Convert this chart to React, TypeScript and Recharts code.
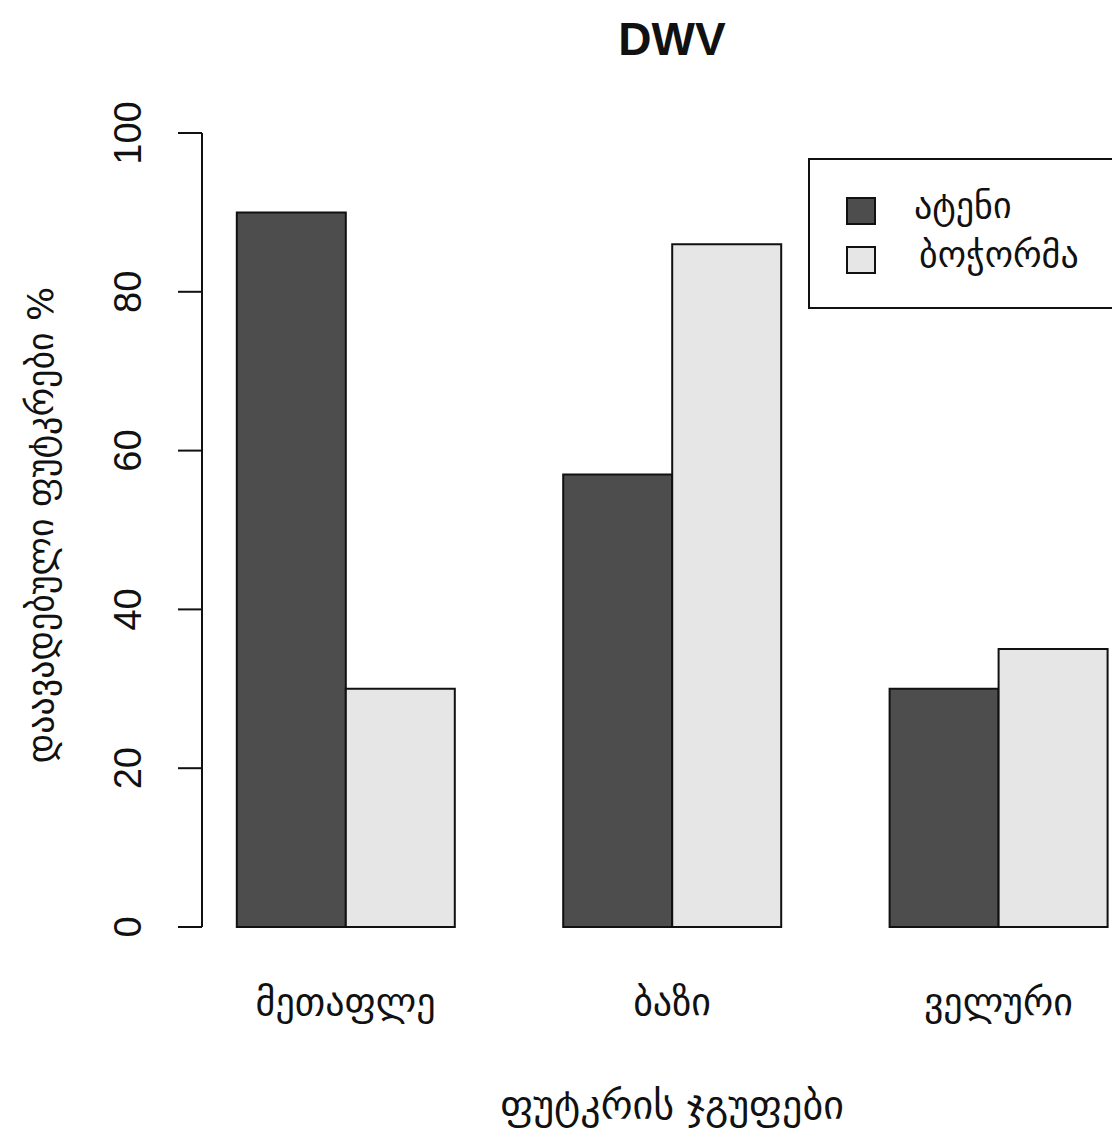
import React from 'react';
import { BarChart, Bar, XAxis, YAxis, Legend } from 'recharts';

const categories = ['მეთაფლე', 'ბაზი', 'ველური'];
const ateniValues = [90, 57, 30];
const bochormaValues = [30, 86, 35];
const yTicks = [0, 20, 40, 60, 80, 100];
const seriesNames = ['ატენი', 'ბოჭორმა'];
const seriesColors = ['#4d4d4d', '#e6e6e6'];
const title = 'DWV';
const xLabel = 'ფუტკრის ჯგუფები';
const yLabel = 'დაავადებული ფუტკრები %';

const data = categories.map((c, i) => ({
  name: c,
  ateni: ateniValues[i],
  bochorma: bochormaValues[i],
}));

const GEO = '"DejaVu Sans", "Noto Sans", sans-serif';
const LAT = '"Liberation Sans", Arial, sans-serif';

const XTick = (props: any) => {
  const { x, y, payload } = props;
  return (
    <text x={x} y={y} dy={88} textAnchor="middle" fontFamily={GEO} fontSize={38} fill="#111">
      {payload.value}
    </text>
  );
};

const YTick = (props: any) => {
  const { y, payload } = props;
  const cx = 128;
  return (
    <text
      x={cx}
      y={y}
      textAnchor="middle"
      dominantBaseline="central"
      transform={`rotate(-90 ${cx} ${y})`}
      fontFamily={LAT}
      fontSize={38}
      fill="#111"
    >
      {payload.value}
    </text>
  );
};

const YLabel = (props: any) => {
  const vb = props.viewBox || { x: 0, y: 133, width: 202, height: 794 };
  const cx = vb.x + 40;
  const cy = vb.y + vb.height / 2 - 5;
  return (
    <text
      x={cx}
      y={cy}
      textAnchor="middle"
      dominantBaseline="central"
      transform={`rotate(-90 ${cx} ${cy})`}
      fontFamily={GEO}
      fontSize={36}
      fill="#111"
    >
      {yLabel}
    </text>
  );
};

const LegendBox = () => (
  <div
    style={{
      width: 340,
      height: 151,
      border: '2px solid #111',
      background: '#fff',
      boxSizing: 'border-box',
      position: 'relative',
    }}
  >
    {seriesNames.map((n, i) => (
      <div key={n} style={{ position: 'absolute', left: 36, top: 36 + i * 49, height: 30, display: 'flex', alignItems: 'center' }}>
        <div
          style={{
            width: 30,
            height: 28,
            background: seriesColors[i],
            border: '2px solid #111',
            boxSizing: 'border-box',
          }}
        />
        <span style={{ marginLeft: 38 + i * 5, fontFamily: GEO, fontSize: 36, color: '#111', lineHeight: '30px', position: 'relative', top: -5 }}>
          {n}
        </span>
      </div>
    ))}
  </div>
);

export default function App() {
  return (
    <div style={{ position: 'absolute', left: 0, top: 0, width: 1112, height: 1135, overflow: 'hidden', background: '#fff' }}>
      <BarChart
        width={1170}
        height={1135}
        data={data}
        margin={{ top: 133, right: 28, bottom: 0, left: 0 }}
        barCategoryGap="16.667%"
        barGap={0}
      >
        <XAxis
          dataKey="name"
          axisLine={false}
          tickLine={false}
          tickSize={0}
          tickMargin={0}
          height={208}
          padding={{ left: -19.6, right: -19.6 }}
          tick={<XTick />}
          interval={0}
          label={{ value: xLabel, position: 'insideBottom', offset: 16, fontFamily: GEO, fontSize: 40, fill: '#111' }}
        />
        <YAxis
          type="number"
          domain={[0, 100]}
          ticks={yTicks}
          width={202}
          tickSize={24}
          axisLine={{ stroke: '#111', strokeWidth: 2 }}
          tickLine={{ stroke: '#111', strokeWidth: 2 }}
          tick={<YTick />}
          label={<YLabel />}
        />
        <Legend
          layout="vertical"
          align="center"
          verticalAlign="middle"
          wrapperStyle={{ position: 'absolute', left: 808, top: 158, width: 340, height: 151 }}
          content={() => <LegendBox />}
        />
        <Bar dataKey="ateni" name={seriesNames[0]} fill={seriesColors[0]} stroke="#111" strokeWidth={2} isAnimationActive={false} />
        <Bar dataKey="bochorma" name={seriesNames[1]} fill={seriesColors[1]} stroke="#111" strokeWidth={2} isAnimationActive={false} />
      </BarChart>
      <svg style={{ position: 'absolute', left: 0, top: 0 }} width={1112} height={80}>
        <text x={672} y={55} textAnchor="middle" fontFamily={LAT} fontWeight="bold" fontSize={46} fill="#111">
          {title}
        </text>
      </svg>
    </div>
  );
}
